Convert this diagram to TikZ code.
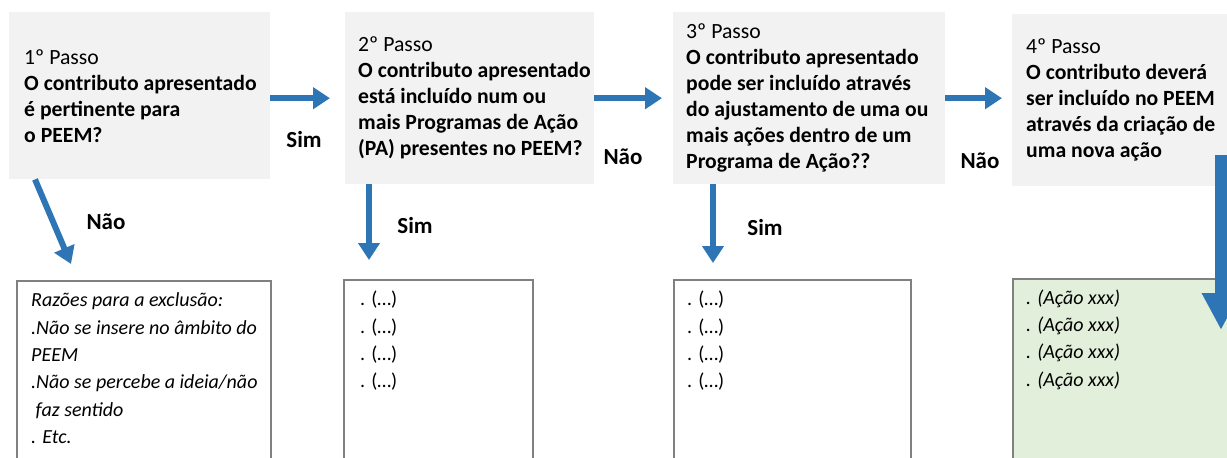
\documentclass[tikz,border=0pt]{standalone}
\usepackage{fontspec}
\setmainfont{Carlito}
\usetikzlibrary{arrows.meta,positioning}
\definecolor{StepGrey}{HTML}{F2F2F2}
\definecolor{FlowBlue}{HTML}{2E75B6}
\definecolor{NewGreen}{HTML}{E2EFDA}
\definecolor{ListLine}{HTML}{808080}

\begin{document}
\begin{tikzpicture}[
        %Environment config
        x=1pt, y=-1pt,
        %Environment styles
        StepCfg/.style={
            fill=StepGrey,
            anchor=north west,
            inner sep=0pt
        },
        StepText/.style={
            anchor=west,
            align=left,
            inner sep=0pt,
            font=\fontsize{21.7}{26}\selectfont
        },
        ListCfg/.style={
            draw=ListLine,
            line width=1.5pt,
            anchor=north west,
            inner sep=0pt,
            minimum height=220pt
        },
        ListText/.style={
            anchor=north west,
            align=left,
            inner sep=0pt,
            font=\fontsize{20}{27.3}\selectfont
        },
        FlowArrow/.style={
            draw=FlowBlue,
            line width=6pt,
            -{Triangle[length=17pt,width=21pt]}
        },
        Answer/.style={
            font=\fontsize{23}{26}\selectfont\bfseries
        }
    ]
    \path[use as bounding box] (0,0) rectangle (1227,458);
    \clip (0,0) rectangle (1227,458);

    %Steps
    \path
        (9,12) node[StepCfg, minimum width=261pt, minimum height=167pt](S1){}
        (345,12) node[StepCfg, minimum width=249pt, minimum height=172pt](S2){}
        (673,12) node[StepCfg, minimum width=272pt, minimum height=172pt](S3){}
        (1012,14) node[StepCfg, minimum width=230pt, minimum height=172pt](S4){};
    \path
        ([xshift=15pt]S1.west) node[StepText](T1){1º Passo\\
            \textbf{O contributo apresentado}\\
            \textbf{é pertinente para}\\
            \textbf{o PEEM?}}
        ([xshift=13pt]S2.west) node[StepText](T2){2º Passo\\
            \textbf{O contributo apresentado}\\
            \textbf{está incluído num ou}\\
            \textbf{mais Programas de Ação}\\
            \textbf{(PA) presentes no PEEM?}}
        ([xshift=13pt]S3.west) node[StepText](T3){3º Passo\\
            \textbf{O contributo apresentado}\\
            \textbf{pode ser incluído através}\\
            \textbf{do ajustamento de uma ou}\\
            \textbf{mais ações dentro de um}\\
            \textbf{Programa de Ação??}}
        ([xshift=14pt]S4.west) node[StepText](T4){4º Passo\\
            \textbf{O contributo deverá}\\
            \textbf{ser incluído no PEEM}\\
            \textbf{através da criação de}\\
            \textbf{uma nova ação}};

    %Lists
    \path
        (16,280) node[ListCfg, minimum width=254pt](L1){}
        (343,279) node[ListCfg, minimum width=189pt](L2){}
        (673,279) node[ListCfg, minimum width=237pt](L3){}
        (1012,278) node[ListCfg, fill=NewGreen, minimum width=240pt](L4){};
    \path
        ([xshift=15pt,yshift=-7.5pt]L1.north west) node[ListText](R1){\strut\textit{Razões para a exclusão:}\\
            \textit{.Não se insere no âmbito do}\\
            \textit{PEEM}\\
            \textit{.Não se percebe a ideia/não}\\
            \textit{\ faz sentido}\\
            \textit{. Etc.}}
        ([xshift=17pt,yshift=-7.5pt]L2.north west) node[ListText](R2){\strut. (…)\\. (…)\\. (…)\\. (…)}
        ([xshift=14pt,yshift=-7.5pt]L3.north west) node[ListText](R3){\strut. (…)\\. (…)\\. (…)\\. (…)}
        ([xshift=14pt,yshift=-7pt]L4.north west) node[ListText](R4){\strut\textit{. (Ação xxx)}\\
            \textit{. (Ação xxx)}\\
            \textit{. (Ação xxx)}\\
            \textit{. (Ação xxx)}};

    %Answers
    \path
        (304,140) node[Answer](A1){Sim}
        (106,222) node[Answer](A2){Não}
        (623,157) node[Answer](A3){Não}
        (415,226) node[Answer](A4){Sim}
        (980,161) node[Answer](A5){Não}
        (765,228) node[Answer](A6){Sim};

    \draw[FlowArrow] (S1.east |- S2.west) -- ([xshift=-15pt]S2.west);
    \draw[FlowArrow] (S2.east |- S3.west) -- ([xshift=-11pt]S3.west);
    \draw[FlowArrow] (S3.east) -- ([xshift=-10pt]S4.west |- S3.east);
    \draw[FlowArrow] ([xshift=26pt]S1.south west) -- ([xshift=55pt,yshift=16pt]L1.north west);
    \draw[FlowArrow] ([xshift=24pt]S2.south west) -- ([xshift=26pt,yshift=19pt]L2.north west);
    \draw[FlowArrow] ([xshift=40pt]S3.south west) -- ([xshift=40pt,yshift=16pt]L3.north west);
    \draw[FlowArrow, line width=12pt, -{Triangle[length=37pt,width=36pt]}]
        ([xshift=209pt,yshift=31pt]S4.south west) -- ([xshift=209pt,yshift=-52pt]L4.north west);
\end{tikzpicture}
\end{document}
